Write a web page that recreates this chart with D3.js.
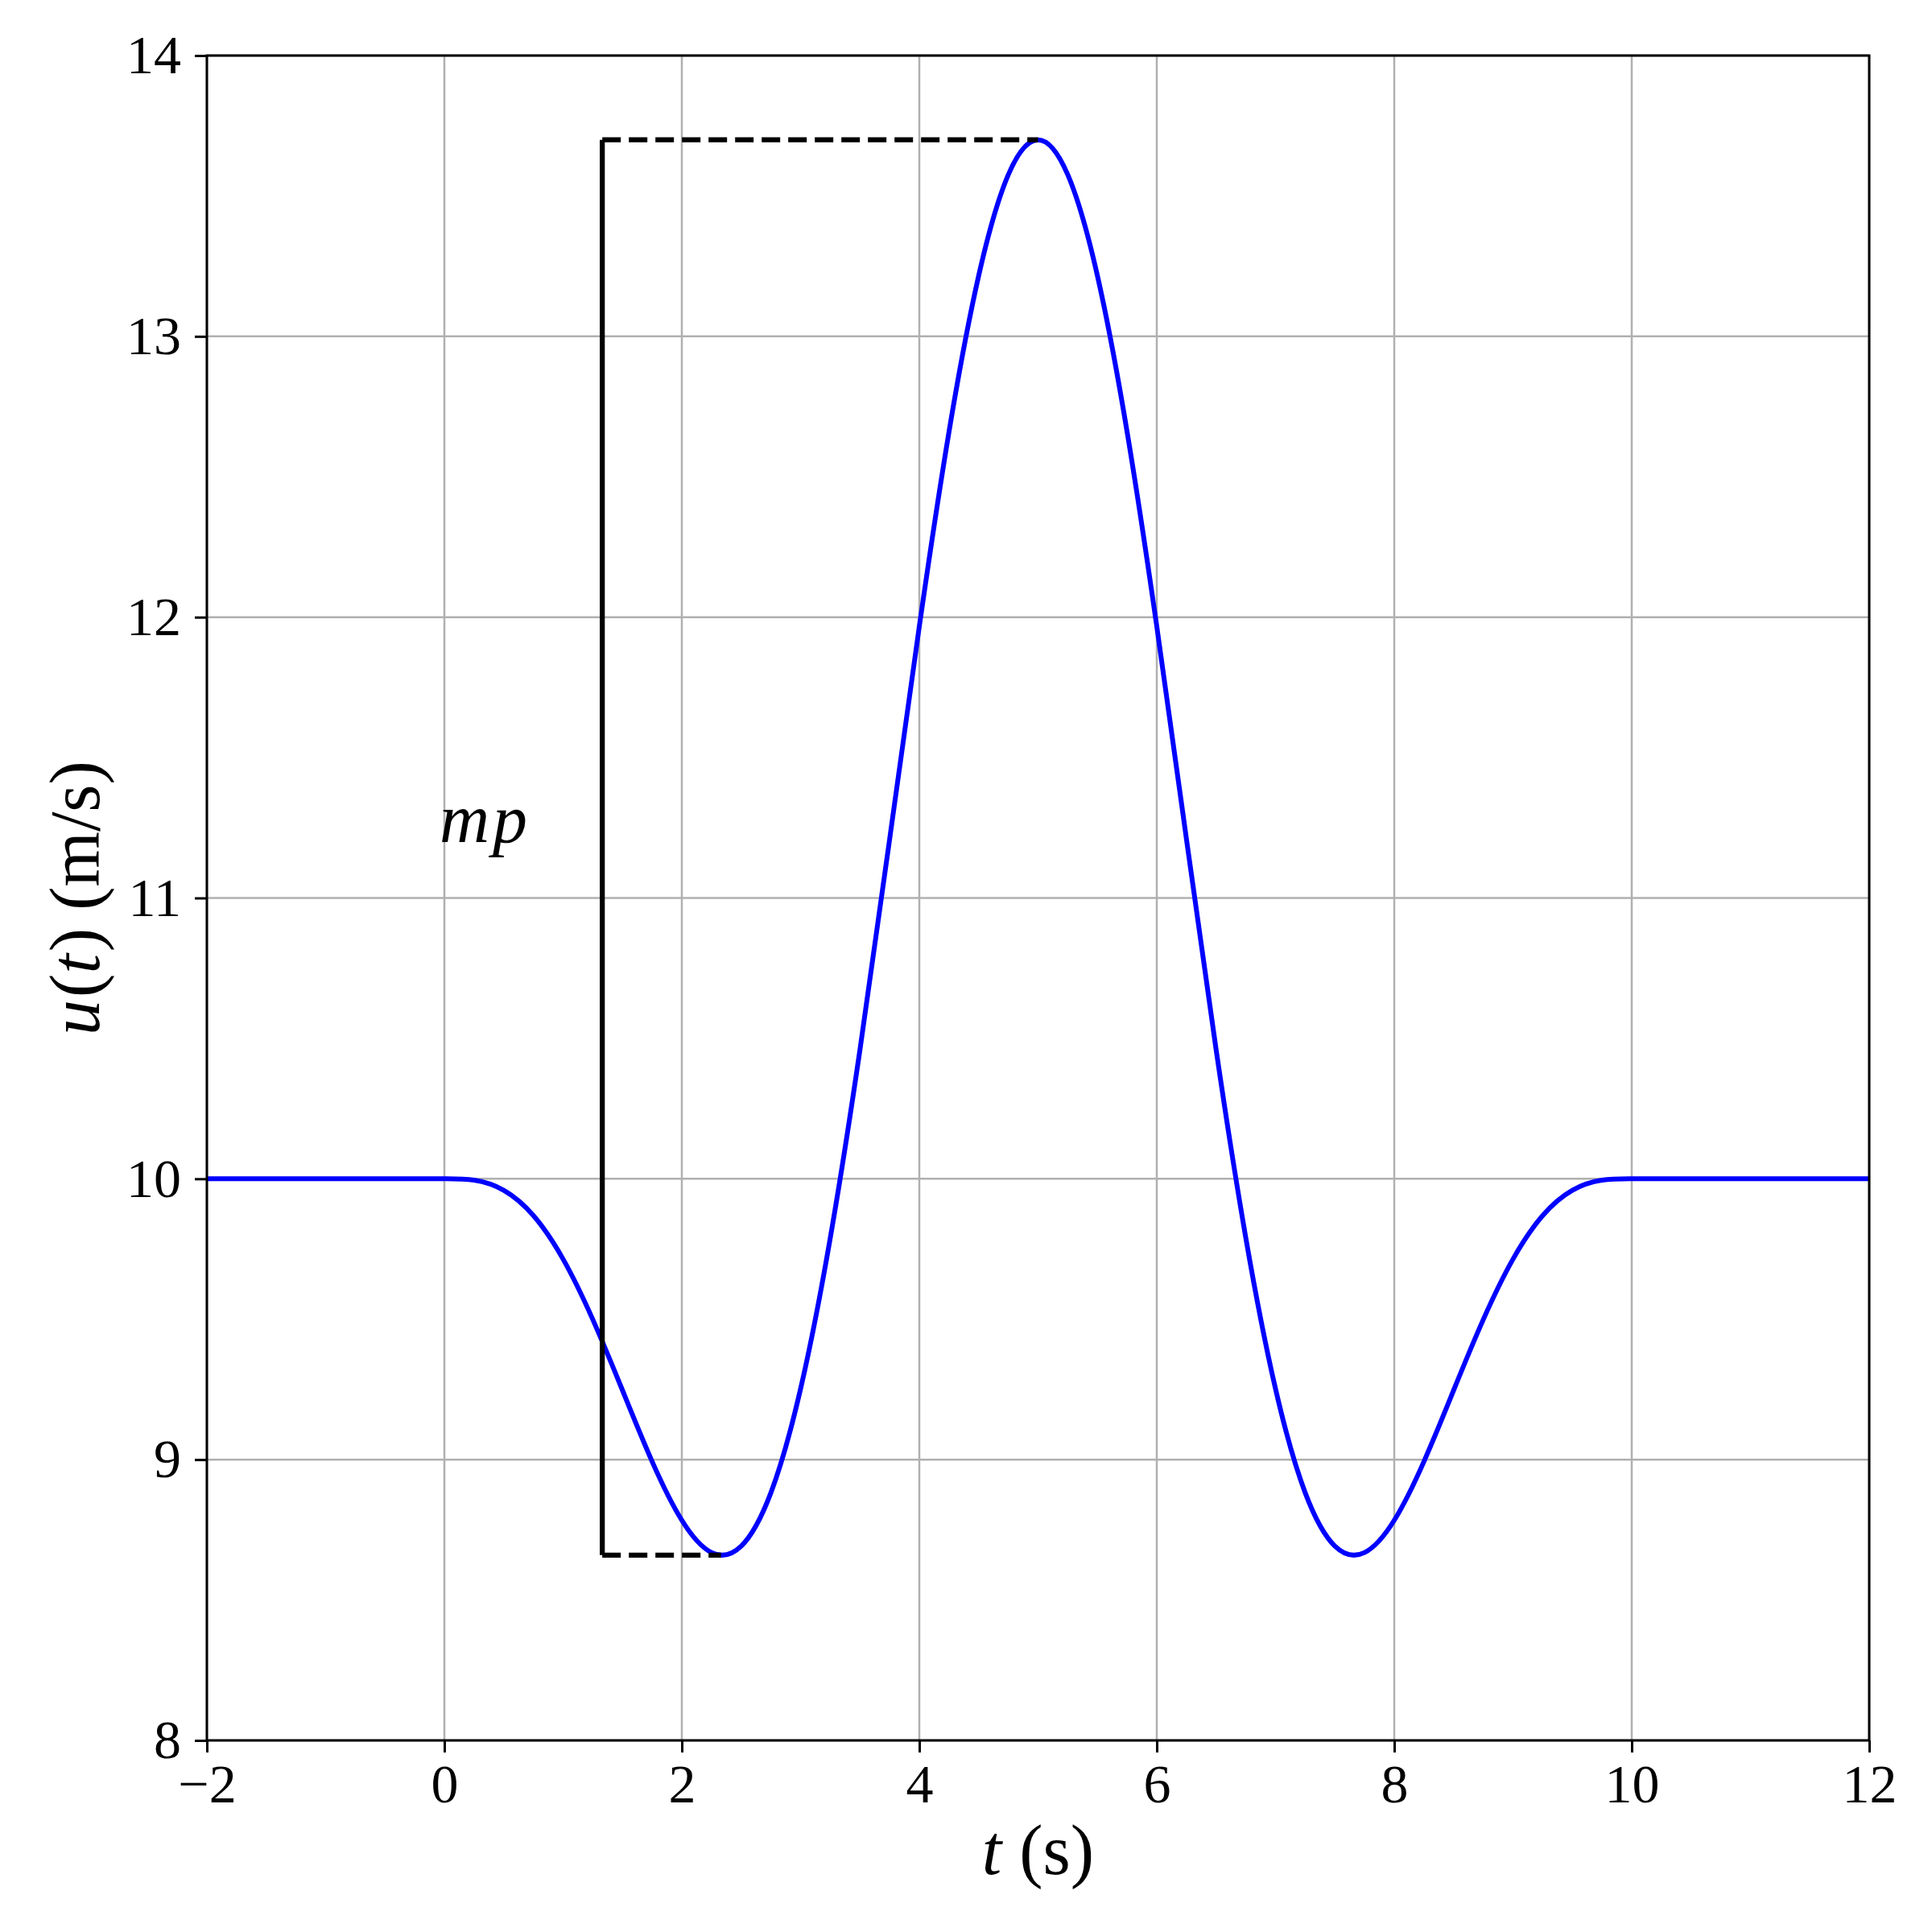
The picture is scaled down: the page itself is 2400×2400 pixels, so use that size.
<!DOCTYPE html>
<html><head><meta charset="utf-8">
<script src="https://cdn.jsdelivr.net/npm/d3@7"></script>
<style>body{margin:0;background:#fff} text{font-family:"Liberation Serif","Times New Roman",Times,serif}</style>
</head><body>
<svg id="c" width="2400" height="2400"></svg>
<script>
// Gust time samples (s) and speeds (m/s)
const gustT = [0,0.25,0.5,0.75,1.0,1.25,1.5,1.75,2.0,2.25,2.5,2.75,3.0,3.25,3.5,3.75,4.0,4.25,4.5,4.75,5.0,
               5.25,5.5,5.75,6.0,6.25,6.5,6.75,7.0,7.25,7.5,7.75,8.0,8.25,8.5,8.75,9.0,9.25,9.5,9.75,10.0];
const gustU = [10.0,9.995,9.959,9.869,9.714,9.499,9.247,8.993,8.784,8.669,8.692,8.882,9.252,9.789,10.459,11.209,11.967,12.660,13.216,13.576,13.70,
               13.576,13.216,12.660,11.967,11.209,10.459,9.789,9.252,8.882,8.692,8.669,8.784,8.993,9.247,9.499,9.714,9.869,9.959,9.995,10.0];
const flatLeftT = [-2, 0], flatLeftU = [10, 10];
const flatRightT = [10, 12], flatRightU = [10, 10];
// annotation lines
const markT = 1.33, peakT = 5.0, troughT = 2.33;
const peakU = 13.70, troughU = 8.66;
const xTicks = [-2,0,2,4,6,8,10,12];
const yTicks = [8,9,10,11,12,13,14];

const svg = d3.select("#c");
const L = 257, R = 2322, T = 69, B = 2162;
const x = d3.scaleLinear().domain([-2,12]).range([L,R]);
const y = d3.scaleLinear().domain([8,14]).range([B,T]);
const font = "Liberation Serif, Times New Roman, Times, serif";

// grid
const g = svg.append("g");
g.selectAll(".gx").data(xTicks).enter().append("line")
  .attr("x1",d=>x(d)).attr("x2",d=>x(d)).attr("y1",T).attr("y2",B)
  .attr("stroke","#b0b0b0").attr("stroke-width",2.5);
g.selectAll(".gy").data(yTicks).enter().append("line")
  .attr("x1",L).attr("x2",R).attr("y1",d=>y(d)).attr("y2",d=>y(d))
  .attr("stroke","#b0b0b0").attr("stroke-width",2.5);

// curve
const line = d3.line().x(d=>x(d[0])).y(d=>y(d[1]));
const gust = gustT.map((t,i)=>[t,gustU[i]]);
svg.append("path").attr("d", line.curve(d3.curveNatural)(gust))
  .attr("fill","none").attr("stroke","#0000ff").attr("stroke-width",6);
const lin = d3.line().x(d=>x(d[0])).y(d=>y(d[1]));
[[flatLeftT,flatLeftU],[flatRightT,flatRightU]].forEach(([ts,us])=>{
  svg.append("path").attr("d", lin(ts.map((t,i)=>[t,us[i]])))
    .attr("fill","none").attr("stroke","#0000ff").attr("stroke-width",6);
});

// annotation
svg.append("path").attr("d", lin([[markT,troughU],[markT,peakU]]))
  .attr("stroke","#000").attr("stroke-width",6.25).attr("fill","none");
svg.append("path").attr("d", lin([[markT,peakU],[peakT,peakU]]))
  .attr("stroke","#000").attr("stroke-width",6.25).attr("fill","none").attr("stroke-dasharray","23,10");
svg.append("path").attr("d", lin([[markT,troughU],[troughT,troughU]]))
  .attr("stroke","#000").attr("stroke-width",6.25).attr("fill","none").attr("stroke-dasharray","23,10");
svg.append("text").attr("x",x(0)-6).attr("y",y(11.2))
  .attr("font-family",font).attr("font-style","italic").attr("font-size",86)
  .attr("letter-spacing",4).text("mp");

// axes
const ax = svg.append("g").attr("transform",`translate(0,${B})`)
  .call(d3.axisBottom(x).tickValues(xTicks).tickSize(15).tickPadding(14));
const ay = svg.append("g").attr("transform",`translate(${L},0)`)
  .call(d3.axisLeft(y).tickValues(yTicks).tickFormat(d3.format("d")).tickSize(15).tickPadding(17));
[ax,ay].forEach(a=>{
  a.attr("font-family",font);
  a.select(".domain").remove();
  a.selectAll(".tick line").attr("stroke","#000").attr("stroke-width",3);
  a.selectAll("text").attr("font-family",font).attr("font-size",68).attr("fill","#000");
});
ax.selectAll("text").attr("dy","0.71em");
svg.append("rect").attr("x",L).attr("y",T).attr("width",R-L).attr("height",B-T)
  .attr("fill","none").attr("stroke","#000").attr("stroke-width",3);

// labels
const xl = svg.append("text").attr("x",(L+R)/2).attr("y",2328).attr("text-anchor","middle")
  .attr("font-family",font).attr("font-size",88);
xl.append("tspan").attr("font-style","italic").text("t");
xl.append("tspan").text(" (s)");
const yl = svg.append("text").attr("transform",`translate(123,${(T+B)/2}) rotate(-90)`)
  .attr("text-anchor","middle").attr("font-family",font).attr("font-size",88);
yl.append("tspan").attr("font-style","italic").text("u");
yl.append("tspan").attr("dx",3).text("(");
yl.append("tspan").attr("font-style","italic").text("t");
yl.append("tspan").attr("dx",3).text(") (m/s)");
</script>
</body></html>
